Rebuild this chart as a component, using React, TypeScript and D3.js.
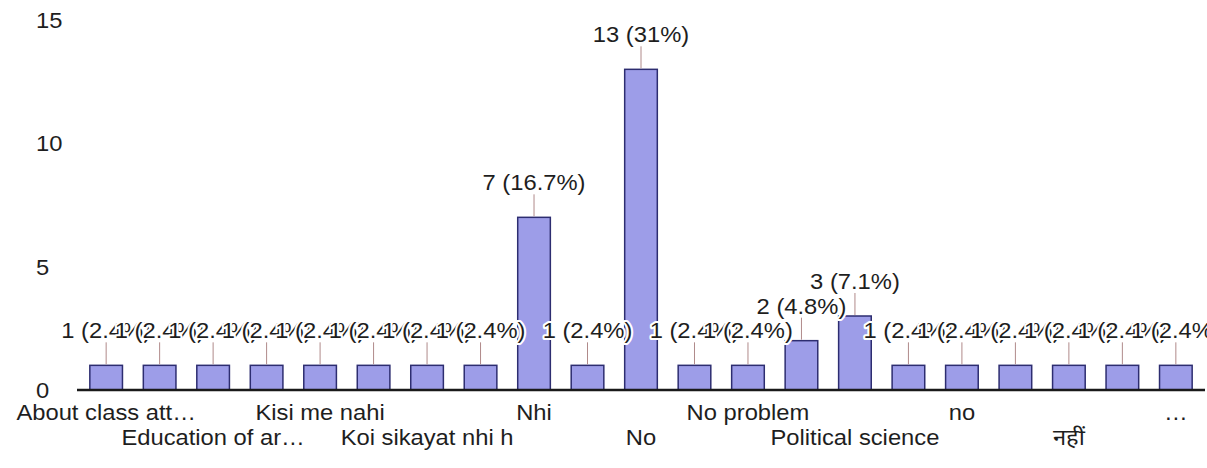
import React from "react";
import * as d3 from "d3";

const categories = [
  "About class att…", "", "Education of ar…", "", "Kisi me nahi", "",
  "Koi sikayat nhi h", "", "Nhi", "", "No", "", "No problem", "",
  "Political science", "", "no", "", "नहीं", "", "…",
];
const counts = [1, 1, 1, 1, 1, 1, 1, 1, 7, 1, 13, 1, 1, 2, 3, 1, 1, 1, 1, 1, 1];
const yTicks = [0, 5, 10, 15];

const W = 1207;
const H = 468;
const FONT = "'Liberation Sans', Arial, 'Noto Sans', sans-serif";
const SX = 1.08;

export default function App() {
  const total = d3.sum(counts);
  const x = d3
    .scaleBand<number>()
    .domain(d3.range(counts.length))
    .range([77, 1205])
    .paddingInner(0.39)
    .paddingOuter(0.24);
  const y = d3.scaleLinear().domain([0, 15]).range([390, 20]);
  const bw = x.bandwidth();

  const label = (v: number) => `${v} (${Number(((v / total) * 100).toFixed(1))}%)`;

  const txt = (
    key: string,
    tx: number,
    ty: number,
    s: string,
    anchor: string,
    halo = false
  ) => (
    <text
      key={key}
      transform={`translate(${tx},${ty}) scale(${SX},1)`}
      textAnchor={anchor}
      fontFamily={FONT}
      fontSize={22}
      fill="#1e1e1e"
      stroke={halo ? "#ffffff" : "none"}
      strokeWidth={halo ? 4 : 0}
      strokeLinejoin="round"
      style={{ paintOrder: "stroke" }}
    >
      {s}
    </text>
  );

  return (
    <svg
      width={W}
      height={H}
      viewBox={`0 0 ${W} ${H}`}
      style={{ position: "absolute", left: 0, top: 0, background: "#fff" }}
    >
      {yTicks.map((t) => txt(`yt${t}`, 36, y(t) + 8, String(t), "start"))}

      {counts.map((v, i) => (
        <rect
          key={`b${i}`}
          x={x(i)!}
          y={y(v)}
          width={bw}
          height={y(0) - y(v)}
          fill="#9d9de8"
          stroke="#2d2d70"
          strokeWidth={1.5}
        />
      ))}

      <line x1={77} x2={1205} y1={y(0)} y2={y(0)} stroke="#1a1a1a" strokeWidth={2.6} />

      {counts.map((v, i) => {
        const cx = x(i)! + bw / 2;
        return (
          <line
            key={`s${i}`}
            x1={cx}
            x2={cx}
            y1={y(v) - 1}
            y2={y(v) - 23}
            stroke="#b08a8a"
            strokeWidth={1}
          />
        );
      })}

      {counts.map((v, i) => txt(`l${i}`, x(i)! + bw / 2, y(v) - 27, label(v), "middle", true))}

      {categories.map((c, i) =>
        i % 2 === 0 && c
          ? txt(`c${i}`, x(i)! + bw / 2, (i / 2) % 2 === 0 ? 420 : 445, c, "middle")
          : null
      )}
    </svg>
  );
}
